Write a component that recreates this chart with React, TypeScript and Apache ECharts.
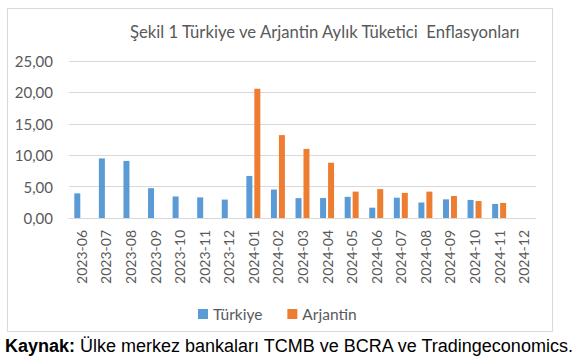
import React, { useEffect, useRef } from 'react';
import * as echarts from 'echarts';

const categories = [
  '2023-06', '2023-07', '2023-08', '2023-09', '2023-10', '2023-11', '2023-12',
  '2024-01', '2024-02', '2024-03', '2024-04', '2024-05', '2024-06', '2024-07',
  '2024-08', '2024-09', '2024-10', '2024-11', '2024-12',
];
const turkiye: (number | null)[] = [
  3.92, 9.49, 9.09, 4.75, 3.43, 3.28, 2.93, 6.7, 4.53, 3.16, 3.18, 3.37, 1.64, 3.23,
  2.47, 2.97, 2.88, 2.24, null,
];
const arjantin: (number | null)[] = [
  null, null, null, null, null, null, null, 20.6, 13.2, 11.0, 8.8, 4.2, 4.6, 4.0,
  4.2, 3.5, 2.7, 2.4, null,
];
const seriesNames = ['Türkiye', 'Arjantin'];
const yMin = 0;
const yMax = 25;
const yInterval = 5;
const title = 'Şekil 1 Türkiye ve Arjantin Aylık Tüketici  Enflasyonları';
const sourceLabel = 'Kaynak:';
const sourceText = ' Ülke merkez bankaları TCMB ve BCRA ve Tradingeconomics.';

const BLUE = '#5B9BD5';
const ORANGE = '#ED7D31';
const GRAY_TEXT = '#595959';
const GRID = '#d9d9d9';
const FONT = 'Lato, "Open Sans", sans-serif';

export default function App() {
  const ref = useRef<HTMLDivElement>(null);
  useEffect(() => {
    document.body.style.margin = '0';
    if (!ref.current) return;
    const chart = echarts.init(ref.current, null, { renderer: 'svg' });
    chart.setOption({
      animation: false,
      backgroundColor: '#ffffff',
      textStyle: { fontFamily: FONT },
      title: {
        text: title,
        left: 125,
        top: 18,
        textStyle: { fontFamily: FONT, fontSize: 16.7, fontWeight: 'normal', color: GRAY_TEXT },
      },
      grid: { left: 69, right: 49, top: 61, bottom: 139, containLabel: false },
      legend: {
        left: 193,
        top: 301,
        icon: 'rect',
        itemWidth: 10,
        itemHeight: 10,
        itemGap: 25,
        textStyle: { fontFamily: FONT, fontSize: 15.5, color: GRAY_TEXT, padding: [0, 0, 0, 0] },
        data: seriesNames,
      },
      xAxis: {
        type: 'category',
        data: categories,
        axisLine: { show: true, lineStyle: { color: GRID, width: 1 } },
        axisTick: { show: false },
        axisLabel: {
          rotate: 90,
          interval: 0,
          margin: 12,
          fontFamily: FONT,
          fontSize: 14,
          color: GRAY_TEXT,
        },
      },
      yAxis: {
        type: 'value',
        min: yMin,
        max: yMax,
        interval: yInterval,
        axisLine: { show: false },
        axisTick: { show: false },
        splitLine: { lineStyle: { color: GRID, width: 1 } },
        axisLabel: {
          margin: 16,
          fontFamily: FONT,
          fontSize: 15,
          color: GRAY_TEXT,
          formatter: (v: number) => v.toFixed(2).replace('.', ','),
        },
      },
      series: [
        {
          name: seriesNames[0],
          type: 'bar',
          data: turkiye,
          barWidth: 6,
          barGap: '33%',
          itemStyle: { color: BLUE },
        },
        {
          name: seriesNames[1],
          type: 'bar',
          data: arjantin,
          barWidth: 6,
          barGap: '33%',
          itemStyle: { color: ORANGE },
        },
      ],
      graphic: [
        {
          type: 'rect',
          silent: true,
          z: -1,
          shape: { x: 7.5, y: 8.5, width: 545, height: 323 },
          style: { fill: 'none', stroke: GRID, lineWidth: 1 },
        },
        {
          type: 'text',
          x: 5,
          y: 346,
          style: {
            text: `{b|${sourceLabel}}${sourceText}`,
            fontFamily: '"Liberation Sans", Arial, sans-serif',
            fontSize: 18,
            fill: '#000000',
            verticalAlign: 'middle',
            rich: {
              b: {
                fontFamily: '"Liberation Sans", Arial, sans-serif',
                fontSize: 18,
                fontWeight: 'bold',
                fill: '#000000',
              },
            },
          },
        },
      ],
    });
    return () => chart.dispose();
  }, []);
  return (
    <div
      ref={ref}
      style={{ position: 'absolute', left: 0, top: 0, width: 585, height: 357 }}
    />
  );
}
